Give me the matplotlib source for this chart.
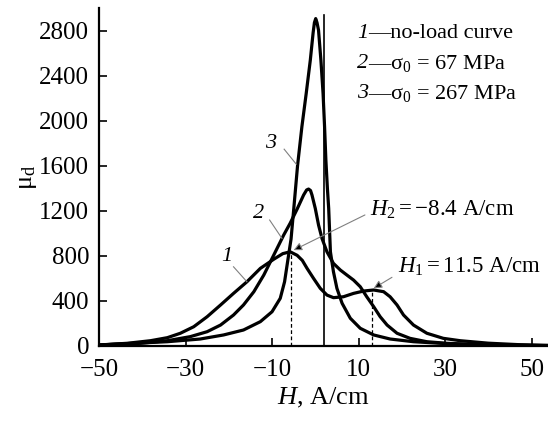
import matplotlib
matplotlib.use("Agg")
import matplotlib.pyplot as plt

plt.rcParams['font.family'] = ['Liberation Serif', 'DejaVu Serif']
plt.rcParams['mathtext.fontset'] = 'custom'
plt.rcParams['mathtext.rm'] = 'Liberation Serif'
plt.rcParams['mathtext.it'] = 'Liberation Serif:italic'
plt.rcParams['mathtext.bf'] = 'Liberation Serif:bold'

# Curve 1: no-load
h1 = [-50, -43.5, -38.1, -34.2, -31.2, -28.1, -25, -21.9, -18.9, -15.8, -12.7, -9.6, -7.5, -5.8,
      -4.2, -3.0, -1.9, -0.4, 1.15, 2.7, 4.2, 6.5, 8.85, 11.2, 13.5, 15.8, 17.3, 18.9, 20.4,
      22.7, 25.8, 29.6, 33.5, 40, 47, 54]
mu1 = [9, 24, 47, 74, 113, 171, 260, 364, 467, 570, 689, 770, 820, 836,
       805, 760, 689, 600, 512, 452, 429, 437, 467, 488, 497, 482, 437, 364, 275,
       186, 113, 68, 47, 25, 12, 6]

# Curve 2: sigma0 = 67 MPa
h2 = [-50, -40.4, -34.2, -28.9, -25, -21.9, -18.9, -16.6, -14.2, -11.9, -9.6, -7.3, -5.8, -4.2,
      -2.7, -2.0, -1.55, -1.1, -0.76, 0, 0.76, 1.55, 2.7, 4.2, 5.8, 7.3, 8.85, 10.4, 11.9,
      13.5, 15, 16.6, 18.9, 21.9, 25.8, 30.4, 38, 46, 54]
mu2 = [9, 24, 47, 83, 127, 186, 275, 364, 482, 630, 807, 985, 1090, 1215,
       1340, 1385, 1393, 1380, 1340, 1221, 1073, 955, 836, 733, 674, 630, 585, 526, 437,
       349, 260, 186, 113, 68, 38, 24, 12, 6, 3]

# Curve 3: sigma0 = 267 MPa
h3 = [-50, -42, -34.2, -26.6, -21.2, -16.6, -12.7, -10, -8.1, -7.1, -6.4, -5.6, -4.9, -4.1,
      -3.1, -2.1, -1.15, -0.5, -0.2, 0.1, 0.4, 0.75, 1.3, 1.8, 2.15, 2.45, 2.8, 3.1, 3.5,
      4.2, 5.0, 6.2, 8.1, 10.4, 13.5, 17.3, 22.7, 28.9, 36, 45, 54]
mu3 = [9, 24, 38, 62, 98, 142, 216, 304, 423, 570, 748, 950, 1250, 1600,
       1945, 2241, 2537, 2780, 2870, 2906, 2870, 2803, 2537, 2241, 1945, 1650, 1400, 1221, 836,
       659, 512, 379, 246, 157, 98, 62, 38, 24, 12, 6, 3]

x_ticks = [-50, -30, -10, 10, 30, 50]
y_ticks = [0, 400, 800, 1200, 1600, 2000, 2400, 2800]

legend_nums = ['1', '2', '3']
legend_texts = ['—no-load curve',
                r'—$\mathrm{σ}_0$ = 67 MPa',
                r'—$\mathrm{σ}_0$ = 267 MPa']

fig = plt.figure(figsize=(5.48, 4.21), dpi=100)
ax = fig.add_axes([99/548, 1 - 346/421, 449/548, 338/421])

lw = 2.3
for h, m in [(h1, mu1), (h2, mu2), (h3, mu3)]:
    ax.plot(h, m, color='black', lw=lw, solid_joinstyle='round', solid_capstyle='round')

# vertical reference line
ax.plot([1.9, 1.9], [0, 2940], color='black', lw=1.2)
# dashed markers
ax.plot([-5.6, -5.6], [0, 836], color='black', lw=0.9, ls=(0, (3, 2)))
ax.plot([13.1, 13.1], [0, 497], color='black', lw=0.9, ls=(0, (3, 2)))

ax.set_xlim(-50, 53.8)
ax.set_ylim(0, 3000)
ax.set_xticks(x_ticks)
ax.set_yticks(y_ticks)
ax.tick_params(direction='in', length=6, width=1.2, labelsize=18, pad=7)
ax.tick_params(axis='x', pad=9)
for s in ['top', 'right']:
    ax.spines[s].set_visible(False)
for s in ['left', 'bottom']:
    ax.spines[s].set_linewidth(1.6)

ax.set_xlabel(r'$\mathit{H}$, A/cm', fontsize=19, labelpad=4)
ax.set_ylabel(r'$\mathrm{μ}_\mathrm{d}$', fontsize=19, labelpad=0)

# legend text
for i, (n, t) in enumerate(zip(legend_nums, legend_texts)):
    tn = ax.text(9.6, 2774 - i * 266, n, fontsize=16, va='center', ha='left', style='italic')
    ax.annotate(t, xy=(1, 0.5), xycoords=tn, fontsize=16, va='center', ha='left')

# curve labels with leader lines
ax.text(-10.4, 1800, '3', fontsize=16, ha='center', va='center', style='italic')
ax.plot([-7.2, -4.4], [1747, 1614], color='gray', lw=0.8)
ax.text(-13.1, 1177, '2', fontsize=16, ha='center', va='center', style='italic')
ax.plot([-10.55, -7.7], [1118, 955], color='gray', lw=0.8)
ax.text(-20.4, 792, '1', fontsize=16, ha='center', va='center', style='italic')
ax.plot([-18.9, -15.8], [703, 570], color='gray', lw=0.8)

# annotations
ax.annotate(r'$\mathit{H}_2 = -8.4$ A/cm', xy=(-5.0, 851), xytext=(12.7, 1206),
            fontsize=16.5, va='center', ha='left',
            arrowprops=dict(arrowstyle='-|>', ec='gray', fc='black', lw=0.8,
                            mutation_scale=12, shrinkA=2, shrinkB=0,
                            relpos=(0, 0.4)))
ax.annotate(r'$\mathit{H}_1 = 11.5$ A/cm', xy=(13.5, 512), xytext=(19.2, 703),
            fontsize=16.5, va='center', ha='left',
            arrowprops=dict(arrowstyle='-|>', ec='gray', fc='black', lw=0.8,
                            mutation_scale=12, shrinkA=3, shrinkB=0,
                            relpos=(0, 0.2)))

fig.savefig('out.png', dpi=100)
